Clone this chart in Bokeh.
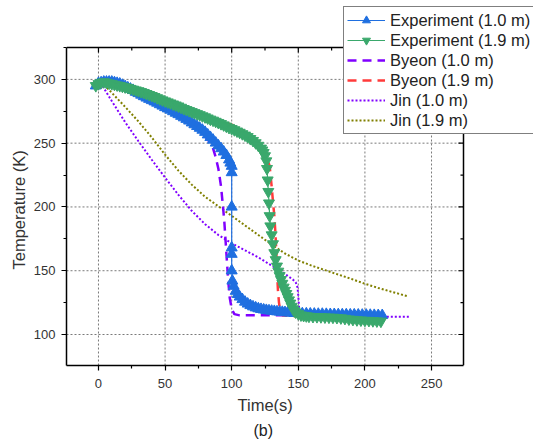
import math
from bokeh.plotting import figure
from bokeh.models import (Range1d, FixedTicker, Legend, LegendItem, Title)
from bokeh.embed import file_html
from bokeh.resources import INLINE

# ---------------- data ----------------
# Experiment (1.0 m): cooling part, sudden drop near t = 100 s, tail
exp10_cool_t = [-2, 0, 2, 4, 6, 8, 10, 12, 14, 16, 18, 20, 22, 24, 26, 28, 30, 32, 34, 36,
                38, 40, 42, 44, 46, 48, 50, 52, 54, 56, 58, 60, 62, 64, 66, 68, 70, 72, 74,
                76, 78, 80, 82, 84, 86, 88, 90, 92, 94, 96, 98, 99]
exp10_cool_T = [295, 297, 297.5, 298, 298, 298, 298, 297.5, 297, 296.5, 295.5, 294.5, 293.5,
                292.5, 291.5, 290, 289, 287.8, 286.6, 285.5, 284.5, 283.5, 282.5, 281.5,
                280.3, 279.2, 278, 277, 276, 274.8, 273.6, 272.5, 271.2, 270, 268.8, 267.5,
                266, 264.6, 263.2, 261.8, 260.3, 258.6, 256.6, 254.6, 252.5, 250.2, 248,
                245.8, 243.2, 240.5, 237, 234.5]
exp10_drop_t = [100, 100, 100, 100, 100, 100]
exp10_drop_T = [232, 227, 200, 168, 163, 150]
exp10_tail_t = [100.5, 101.5, 103, 104.5, 106, 108, 110, 112, 114, 116, 118, 120, 122, 124,
                126, 128, 130, 132, 134, 136, 138, 140, 142, 144, 147, 150, 153, 156, 159,
                162, 165, 168, 171, 174, 177, 180, 183, 186, 189, 192, 195, 198, 201, 204,
                207, 210, 213]
exp10_tail_T = [142, 138, 134, 131.5, 129.5, 127.5, 125.5, 124, 122.8, 121.8, 121, 120.3,
                119.8, 119.4, 119, 118.7, 118.4, 118.2, 117.9, 117.7, 117.5, 117.3, 117.1,
                116.9, 116.7, 116.6, 116.4, 116.3, 116.2, 116.1, 116, 116, 115.9, 115.8,
                115.8, 115.7, 115.6, 115.6, 115.5, 115.5, 115.4, 115.3, 115.3, 115.2, 115.1,
                115, 115]

# Experiment (1.9 m)
exp19_cool_t = [-2, 0, 2, 4, 6, 8, 10, 12, 14, 16, 18, 20, 22, 24, 26, 28, 30, 32, 34, 36, 38,
                40, 42, 44, 46, 48, 50, 52, 54, 56, 58, 60, 62, 64, 66, 68, 70, 72, 74, 76, 78,
                80, 82, 84, 86, 88, 90, 92, 94, 96, 98, 100, 102, 104, 106, 108, 110, 112, 114,
                116, 118, 120, 122, 123, 124]
exp19_cool_T = [295, 296.5, 297.5, 298, 297.5, 297, 296.5, 296, 295.5, 295, 294.5, 294, 293.5,
                292.8, 292.2, 291.6, 291, 290.3, 289.6, 288.8, 288, 287.2, 286.4, 285.5, 284.6,
                283.8, 283, 282.2, 281.4, 280.6, 279.8, 279, 278, 277, 276.2, 275.4, 274.6,
                273.8, 273, 272.2, 271.3, 270.5, 269.6, 268.7, 267.9, 267, 266.1, 265.2, 264.2,
                263.2, 262.2, 261.3, 260.4, 259.4, 258.4, 257.3, 256.2, 255, 253.5, 252, 250.2,
                248.2, 246, 244.5, 242.5]
exp19_drop_t = [125, 126, 126.5, 127, 127.5, 128, 128.5, 129, 130, 131, 132, 133, 134, 135,
                136, 137, 138, 139, 140, 141, 142, 143, 144, 145, 146, 147, 148]
exp19_drop_T = [240, 236, 230, 221, 212, 203, 193, 185, 178, 171, 164, 158.5, 153.5, 149.5,
                146, 143, 140, 137, 134.5, 132, 129.5, 127, 124.5, 122, 120, 118.5, 117.5]
exp19_tail_t = [150, 152, 154, 156, 158, 161, 164, 167, 170, 173, 176, 179, 182, 185, 188, 191,
                194, 197, 200, 203, 206, 209, 212]
exp19_tail_T = [116.2, 115.2, 114.8, 114.5, 114.2, 114, 113.9, 113.8, 113.6, 113.5, 113.4,
                113.2, 112.9, 112.5, 112, 111.7, 111.4, 111.2, 111, 110.9, 110.7, 110.5, 110.3]

byeon10_t = [0, 20, 40, 60, 75, 82, 86, 88, 90, 92, 93.5, 94.5, 95.5, 96.5, 97.5, 98.5, 100,
             102, 106, 145]
byeon10_T = [298, 293, 282, 271, 261, 253, 246, 239, 230, 216, 200, 188, 172, 156, 141, 129,
             120, 116, 115, 115]

byeon19_t = [0, 20, 50, 80, 100, 106, 112, 118, 122, 125, 127, 128.5, 130, 131, 132, 132.8,
             133.5, 134, 134.7, 135.5, 136.5, 138, 155]
byeon19_T = [298, 294, 284.5, 272, 264.5, 261.5, 257.5, 252, 247, 242, 237, 232, 216, 204, 193,
             180, 165, 150, 135, 125, 118, 115, 114]

jin10_t = [0, 10, 20, 30, 40, 50, 60, 70, 80, 90, 100, 110, 120, 130, 140, 146, 148, 149.4,
           150, 150.6, 151.9, 155, 234]
jin10_T = [300, 283, 266.5, 251.5, 237, 223, 209.5, 197, 186.5, 178, 171.5, 166, 160.5, 154,
           147.5, 143, 141, 137, 130, 121, 115, 114, 114]

jin19_t = [0, 10, 20, 30, 40, 50, 60, 70, 80, 90, 100, 110, 120, 130, 140, 150, 160, 170, 180,
           190, 200, 210, 220, 232]
jin19_T = [300, 289.5, 278.5, 267, 254.5, 241, 228.5, 217.5, 208, 200.5, 193, 185.5, 178,
           170.5, 163.5, 158, 154, 150.5, 147, 143.5, 139.8, 136.5, 133.5, 130]

labels = ["Experiment (1.0 m)", "Experiment (1.9 m)", "Byeon (1.0 m)", "Byeon (1.9 m)",
          "Jin (1.0 m)", "Jin (1.9 m)"]

x_major = [0, 50, 100, 150, 200, 250]
x_minor = [25, 75, 125, 175, 225]
y_major = [100, 150, 200, 250, 300]
y_minor = [125, 175, 225, 275, 325]

exp10_t = exp10_cool_t + exp10_drop_t + exp10_tail_t
exp10_T = exp10_cool_T + exp10_drop_T + exp10_tail_T
exp19_t = exp19_cool_t + exp19_drop_t + exp19_tail_t
exp19_T = exp19_cool_T + exp19_drop_T + exp19_tail_T

# ---------------- layout constants ----------------
X0, X1 = -24, 274          # visible axes box (data units)
Y0, Y1 = 75.7, 325
BOX_W, BOX_H = 397, 318    # visible axes box (pixels)
EXT_R, EXT_T = 70, 41      # extra drawing area right / above the box, for the legend
FRAME_W, FRAME_H = BOX_W + EXT_R, BOX_H + EXT_T
x_end = X1 + EXT_R * (X1 - X0) / BOX_W
y_end = Y1 + EXT_T * (Y1 - Y0) / BOX_H

BLUE = "#1f6fe0"
GREEN = "#3aa86c"
PURPLE = "#8000ff"
RED = "#ff3b3b"
OLIVE = "#808000"
FONT = "Liberation Sans"
TXT = "#333333"

p = figure(frame_width=FRAME_W, frame_height=FRAME_H, output_backend="svg",
           toolbar_location=None, x_range=Range1d(X0, x_end), y_range=Range1d(Y0, y_end),
           min_border_left=66, min_border_right=2, min_border_top=6, min_border_bottom=79)
p.background_fill_color = "white"
p.border_fill_color = "white"
p.outline_line_color = None

p.xaxis.ticker = FixedTicker(ticks=x_major, minor_ticks=x_minor)
p.yaxis.ticker = FixedTicker(ticks=y_major, minor_ticks=y_minor)
p.xaxis.bounds = (X0, X1)
p.yaxis.bounds = (Y0, Y1)
for ax in [p.xaxis[0], p.yaxis[0]]:
    ax.axis_line_width = 1.5
    ax.major_tick_line_width = 1.2
    ax.minor_tick_line_width = 1.2
    ax.major_tick_in = 0
    ax.major_tick_out = 5
    ax.minor_tick_in = 0
    ax.minor_tick_out = 3
    ax.major_label_text_font = FONT
    ax.major_label_text_font_size = "13px"
    ax.major_label_text_color = TXT
    ax.major_label_standoff = 6
p.xaxis.major_label_standoff = 8
p.grid.visible = False

# axis titles placed over the visible box
xt = Title(text="Time(s)", align="left", offset=171, standoff=6, text_font=FONT,
           text_font_size="16.5px", text_font_style="normal", text_color=TXT)
p.add_layout(xt, "below")
cap = Title(text="(b)", align="left", offset=187, standoff=7, text_font=FONT,
            text_font_size="16px", text_font_style="normal", text_color="#222222")
p.add_layout(cap, "below")
yt = Title(text="Temperature (K)", align="left", offset=96, standoff=6, text_font=FONT,
           text_font_size="16.5px", text_font_style="normal", text_color=TXT)
p.add_layout(yt, "left")

# dotted grid inside the visible box
p.segment(x0=x_major, y0=[Y0] * len(x_major), x1=x_major, y1=[Y1] * len(x_major),
          line_color="#7a7a7a", line_dash="2 2", line_width=1)
p.segment(x0=[X0] * len(y_major), y0=y_major, x1=[X1] * len(y_major), y1=y_major,
          line_color="#7a7a7a", line_dash="2 2", line_width=1)

# ---------------- data renderers ----------------
line_styles = [
    dict(line_color=BLUE, line_width=1.2),
    dict(line_color=GREEN, line_width=1.2),
    dict(line_color=PURPLE, line_width=2.5, line_dash="9 6"),
    dict(line_color=RED, line_width=2.5, line_dash="9 6"),
    dict(line_color=PURPLE, line_width=2, line_dash="2 2"),
    dict(line_color=OLIVE, line_width=2, line_dash="2 2"),
]
mk10 = dict(marker="triangle", size=11, fill_color=BLUE, line_color=BLUE)
mk19 = dict(marker="inverted_triangle", size=11, fill_color=GREEN, line_color=GREEN)

r_j19 = p.line(jin19_t, jin19_T, **line_styles[5])
r_j10 = p.line(jin10_t, jin10_T, **line_styles[4])
r_b10 = p.line(byeon10_t, byeon10_T, **line_styles[2])
r_b19 = p.line(byeon19_t, byeon19_T, **line_styles[3])
r_e10l = p.line(exp10_t, exp10_T, **line_styles[0])
r_e10m = p.scatter(exp10_t, exp10_T, **mk10)
r_e19l = p.line(exp19_t, exp19_T, **line_styles[1])
r_e19m = p.scatter(exp19_t, exp19_T, **mk19)

# top and right edges of the box, with inward ticks
p.line([X0, X1], [Y1, Y1], line_color="black", line_width=1.5)
p.line([X1, X1], [Y0, Y1], line_color="black", line_width=1.5)
p.ray(x=x_major, y=[Y1] * len(x_major), length=5, angle=-math.pi / 2,
      length_units="screen", line_color="black", line_width=1.2)
p.ray(x=x_minor, y=[Y1] * len(x_minor), length=3, angle=-math.pi / 2,
      length_units="screen", line_color="black", line_width=1.2)
p.ray(x=[X1] * len(y_major), y=y_major, length=5, angle=math.pi,
      length_units="screen", line_color="black", line_width=1.2)
p.ray(x=[X1] * len(y_minor), y=y_minor, length=3, angle=math.pi,
      length_units="screen", line_color="black", line_width=1.2)

legend = Legend(items=[
    LegendItem(label=labels[0], renderers=[r_e10l, r_e10m]),
    LegendItem(label=labels[1], renderers=[r_e19l, r_e19m]),
    LegendItem(label=labels[2], renderers=[r_b10]),
    LegendItem(label=labels[3], renderers=[r_b19]),
    LegendItem(label=labels[4], renderers=[r_j10]),
    LegendItem(label=labels[5], renderers=[r_j19]),
], location=(277, 231))
legend.border_line_color = "black"
legend.border_line_width = 1.5
legend.background_fill_color = "white"
legend.background_fill_alpha = 1
legend.label_text_font = FONT
legend.label_text_font_size = "16.5px"
legend.label_text_color = "#222222"
legend.glyph_width = 38
legend.glyph_height = 20
legend.label_height = 20
legend.label_standoff = 5
legend.spacing = 0
legend.padding = 3
legend.margin = 0
p.add_layout(legend, "center")

open("out.html", "w").write(file_html(p, INLINE))
